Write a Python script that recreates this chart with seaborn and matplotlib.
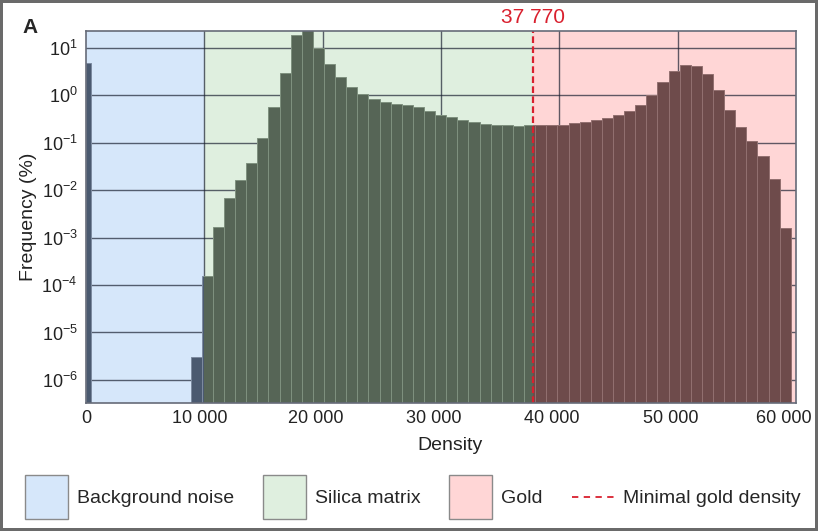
import numpy as np
import pandas as pd
import matplotlib
matplotlib.use("Agg")
import matplotlib.pyplot as plt
import matplotlib.transforms as mtransforms
import seaborn as sns
from matplotlib.patches import Patch, Rectangle
from matplotlib.lines import Line2D
from matplotlib.legend_handler import HandlerLine2D
from matplotlib.ticker import FixedLocator, FuncFormatter, NullLocator

# histogram values (frequency in %)
bin_start = 8850
bin_width = 939
freq = [3.1e-6, 1.57e-4, 1.64e-3, 6.8e-3, 0.016, 0.038, 0.127, 0.57, 2.9, 18.5,
        26.0, 10.0, 4.6, 2.45, 1.5, 1.07, 0.84, 0.73, 0.66, 0.63,
        0.56, 0.47, 0.39, 0.34, 0.30, 0.275, 0.25, 0.24, 0.23, 0.228,
        0.235, 0.23, 0.23, 0.24, 0.255, 0.275, 0.30, 0.33, 0.38, 0.47,
        0.62, 1.0, 1.86, 3.2, 4.3, 4.1, 2.75, 1.3, 0.49, 0.21,
        0.11, 0.053, 0.0174, 1.56e-3]

# the narrow spike of empty voxels at density 0
noise_edges = [0, 400]
noise_freq = [4.7]

# regions and threshold
region_names = ["Background noise", "Silica matrix", "Gold"]
region_bounds = [(0, 10000), (10000, 37770), (37770, 60000)]
gold_threshold = 37770

x_ticks = [0, 10000, 20000, 30000, 40000, 50000, 60000]
y_ticks = [1e-6, 1e-5, 1e-4, 1e-3, 1e-2, 1e-1, 1e0, 1e1]

edges = [bin_start + bin_width * k for k in range(len(freq) + 1)]
df = pd.DataFrame({"density": [(a + b) / 2 for a, b in zip(edges[:-1], edges[1:])],
                   "freq": freq})
df_noise = pd.DataFrame({"density": [np.mean(noise_edges)], "freq": noise_freq})

bg_colors = ["#d6e7fa", "#dfefdf", "#ffd6d6"]
bar_colors = ["#4b5a70", "#566556", "#6e4b4b"]
bar_edges = ["#7d8ba0", "#7f917f", "#927070"]
red = "#d9202e"


class CenteredLine(HandlerLine2D):
    # put the dashed legend line at the middle of the tall square handles
    def create_artists(self, legend, orig_handle, xdescent, ydescent, width, height,
                       fontsize, trans):
        arts = super().create_artists(legend, orig_handle, xdescent, ydescent,
                                      width, height, fontsize, trans)
        for a in arts:
            a.set_ydata(np.asarray(a.get_ydata()) - ydescent / 2)
        return arts


sns.set_theme(style="white")
plt.rcParams["font.family"] = ["Liberation Sans", "DejaVu Sans"]
plt.rcParams["mathtext.fontset"] = "custom"
plt.rcParams["mathtext.rm"] = "Liberation Sans"

fig = plt.figure(figsize=(8.18, 5.31), dpi=100)
ax = fig.add_axes([0.1051, 0.2411, 0.8680, 0.7005])
ax.set_yscale("log")

# coloured background bands
for (x0, x1), c in zip(region_bounds, bg_colors):
    ax.axvspan(x0, x1, color=c, lw=0, zorder=0)

# bars, one pass per region, clipped to that region so the colour follows the band
for i, ((x0, x1), fc, ec) in enumerate(zip(region_bounds, bar_colors, bar_edges)):
    n_before = len(ax.patches)
    sns.histplot(data=df, x="density", weights="freq", bins=edges, ax=ax,
                 color=fc, edgecolor=ec, linewidth=0.7, alpha=1, zorder=3)
    if i == 0:
        sns.histplot(data=df_noise, x="density", weights="freq", bins=noise_edges, ax=ax,
                     color=fc, edgecolor=ec, linewidth=0.7, alpha=1, zorder=3)
    clip = Rectangle((x0, 0), x1 - x0, 1, transform=ax.get_xaxis_transform())
    for p in ax.patches[n_before:]:
        p.set_clip_path(clip)

# grid
for xv in x_ticks[1:-1]:
    ax.axvline(xv, color="#1c2233", alpha=0.7, lw=1, zorder=2)
for yv in y_ticks:
    ax.axhline(yv, color="#1c2233", alpha=0.7, lw=1, zorder=2)

ax.axvline(gold_threshold, color=red, lw=1.6, ls=(0, (3, 1.5)), zorder=5)
ax.annotate(f"{gold_threshold:,}".replace(",", " "), xy=(gold_threshold, 1),
            xycoords=("data", "axes fraction"), xytext=(0, 3), textcoords="offset points",
            ha="center", va="bottom", color=red, fontsize=15)

ax.set_xlim(0, 60000)
ax.set_ylim(3.27e-7, 22.5)
ax.xaxis.set_major_locator(FixedLocator(x_ticks))
ax.xaxis.set_major_formatter(FuncFormatter(lambda v, p: f"{int(v):,}".replace(",", " ")))
ax.yaxis.set_major_locator(FixedLocator(y_ticks))
ax.yaxis.set_minor_locator(NullLocator())
ax.yaxis.set_major_formatter(FuncFormatter(
    lambda v, p: r"$\mathregular{10^{%d}}$" % int(round(np.log10(v)))))
ax.tick_params(axis="both", which="major", direction="out", length=3, width=1,
               color="#6b6f7a", labelsize=13, labelcolor="#222222", pad=3)
ax.tick_params(axis="x", pad=2)

# x labels sit a little left of their ticks in the original
shifts = [0, -5, -7, -7, -8, -7, -12]
for tick, dx in zip(ax.xaxis.get_major_ticks(), shifts):
    off = mtransforms.ScaledTranslation(dx / 100, 0, fig.dpi_scale_trans)
    tick.label1.set_transform(tick.label1.get_transform() + off)

ax.set_xlabel("Density", fontsize=14, color="#222222")
ax.set_ylabel("Frequency (%)", fontsize=14, color="#222222")
ax.xaxis.set_label_coords(0.513, -0.091)
ax.yaxis.set_label_coords(-0.069, 0.5)

for s in ax.spines.values():
    s.set_color("#666b78")
    s.set_linewidth(1.2)
    s.set_zorder(6)

fig.text(22 / 818, 1 - 33 / 531, "A", fontsize=15, fontweight="bold", va="baseline")

handles = [Patch(facecolor=c, edgecolor="#8a8a8a", lw=1) for c in bg_colors]
dash_handle = Line2D([], [], color=red, lw=1.3, ls=(0, (3.5, 3)))
handles.append(dash_handle)
labels = region_names + ["Minimal gold density"]
fig.legend(handles, labels, loc="center", bbox_to_anchor=(413 / 818, 1 - 497 / 531),
           ncol=4, frameon=False, fontsize=14, handlelength=2.2, handleheight=3.1,
           handletextpad=0.45, columnspacing=1.5, borderaxespad=0,
           handler_map={dash_handle: CenteredLine()})

fig.patch.set_edgecolor("#6a6a6a")
fig.patch.set_linewidth(3)
fig.savefig("out.png", dpi=100, edgecolor=fig.get_edgecolor())
